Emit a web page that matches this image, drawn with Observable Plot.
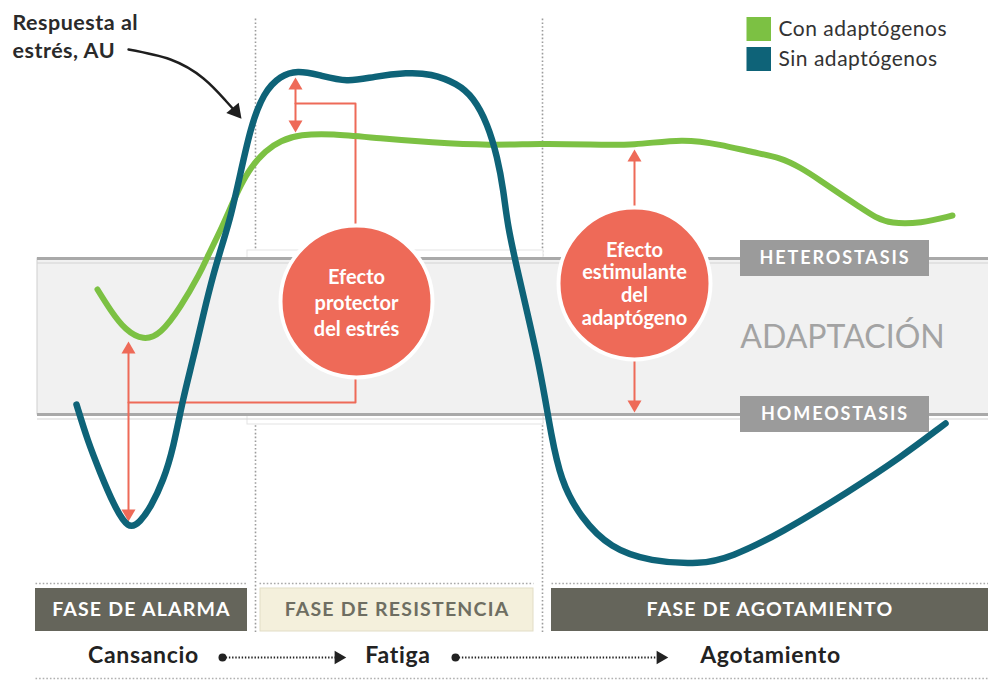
<!DOCTYPE html>
<html><head><meta charset="utf-8">
<script src="https://cdn.jsdelivr.net/npm/d3@7"></script>
<script src="https://cdn.jsdelivr.net/npm/@observablehq/plot@0.6"></script>
<style>
html,body{margin:0;padding:0;background:#fff;}
#chart{width:988px;height:680px;}
</style></head><body><div id="chart"></div>
<script>
// ---- Data (time units, stress response AU) ----
const conT  = [9.7, 11.0, 12.5, 14.3, 16.0, 18.0, 20.0, 20.7, 22.0, 23.0, 24.0, 25.0, 26.5, 28.0, 30.0, 33.0, 38.0, 43.0, 49.0, 54.0, 59.0, 63.3, 68.3, 72.0, 75.3, 78.0, 80.0, 82.0, 84.0, 86.0, 87.5, 89.0, 92.0, 95.2];
const conAU = [39.1, 37.0, 35.0, 34.0, 34.6, 37.3, 40.8, 42.4, 45.0, 47.3, 49.5, 51.3, 53.0, 54.0, 54.6, 54.7, 54.2, 53.8, 53.5, 53.7, 53.6, 53.5, 54.2, 53.6, 52.8, 52.3, 51.3, 50.0, 48.6, 47.3, 46.3, 45.7, 45.7, 46.5];
const sinT  = [7.6, 8.7, 10.0, 11.3, 12.8, 14.0, 15.0, 16.3, 17.3, 18.2, 19.3, 20.3, 21.3, 22.3, 23.0, 24.0, 25.0, 26.3, 28.0, 29.7, 31.7, 34.7, 37.3, 40.7, 43.0, 45.7, 47.3, 48.7, 49.7, 50.3, 50.7, 51.7, 52.7, 53.7, 54.5, 55.0, 56.0, 58.0, 61.0, 65.0, 70.0, 73.0, 78.0, 85.0, 90.0, 94.5];
const sinAU = [27.6, 24.0, 20.7, 17.6, 15.0, 15.9, 17.3, 20.0, 23.3, 28.0, 32.3, 36.7, 40.7, 44.0, 46.3, 50.7, 55.3, 58.8, 60.5, 61.0, 60.6, 59.8, 60.4, 60.8, 60.7, 59.7, 58.3, 55.7, 52.3, 49.0, 45.5, 41.0, 36.7, 32.3, 28.0, 25.0, 20.0, 16.3, 13.2, 11.9, 11.6, 12.3, 14.7, 19.0, 22.3, 25.7];

const seriesNames  = ["Con adaptógenos", "Sin adaptógenos"];
const seriesColors = ["#7cc143", "#0e6378"];

const phaseLabels = ["FASE DE ALARMA", "FASE DE RESISTENCIA", "FASE DE AGOTAMIENTO"];
const phaseStart  = [3.5, 26.0, 55.1];
const phaseEnd    = [24.7, 53.3, 98.8];
const phaseFill   = ["#65655b", "#f4f0dc", "#65655b"];
const phaseInk    = ["#ffffff", "#6e6e62", "#ffffff"];
const phaseDividers = [25.5, 54.2];

const stateLabels = ["Cansancio", "Fatiga", "Agotamiento"];
const stateT      = [14.3, 39.75, 77.0];

const levelLabels = ["HETEROSTASIS", "HOMEOSTASIS"];
const levelAU     = [42.2, 26.6];
const zoneLabel   = "ADAPTACIÓN";

const effectLabels = ["Efecto\nprotector\ndel estrés", "Efecto\nestimulante\ndel\nadaptógeno"];
const effectT  = [35.6, 63.4];
const effectAU = [37.9, 39.7];

const axisLabel = ["Respuesta al", "estrés, AU"];

// ---- derived tables ----
const con = conT.map((t, i) => ({t, au: conAU[i]}));
const sin = sinT.map((t, i) => ({t, au: sinAU[i]}));
const phases = phaseLabels.map((label, i) => ({label, x1: phaseStart[i], x2: phaseEnd[i], fill: phaseFill[i], ink: phaseInk[i]}));
const states = stateLabels.map((label, i) => ({label, t: stateT[i]}));
const levels = levelLabels.map((label, i) => ({label, au: levelAU[i]}));
const effects = effectLabels.map((label, i) => ({label, t: effectT[i], au: effectAU[i]}));
const legend = seriesNames.map((name, i) => ({name, color: seriesColors[i], au: [65.1, 62.1][i]}));

const RED = "#ee6a58";
const redLines = [
  [{t:12.8,au:33.1},{t:12.8,au:16.7}],
  [{t:12.8,au:27.8},{t:35.5,au:27.8},{t:35.5,au:30.4}],
  [{t:29.5,au:59.5},{t:29.5,au:55.6}],
  [{t:29.5,au:57.7},{t:35.5,au:57.7},{t:35.5,au:45.5}],
  [{t:63.4,au:47.3},{t:63.4,au:52.3}],
  [{t:63.4,au:32.1},{t:63.4,au:27.6}]
].flatMap((pts, k) => pts.map(p => ({...p, k})));
const redHeads = [
  {t:12.8, au:33.1, rot:0}, {t:12.8, au:16.7, rot:180},
  {t:29.5, au:59.5, rot:0}, {t:29.5, au:55.6, rot:180},
  {t:63.4, au:52.3, rot:0}, {t:63.4, au:27.6, rot:180}
];
const pointer = [{t:12.8,au:63.1},{t:17.0,au:62.1},{t:20.3,au:60.2},{t:22.5,au:58.0},{t:23.5,au:56.9}];

const flowDots = [{t:22.2, au:2.3}, {t:45.5, au:2.3}];
const flowEnds = [{t1:22.2, t2:33.8}, {t1:45.5, t2:66.0}];

const chart = Plot.plot({
  width: 988, height: 680,
  margin: 0,
  x: {domain: [0, 98.8], axis: null},
  y: {domain: [0, 68], axis: null},
  style: {fontFamily: "Lato, sans-serif", background: "#fff", overflow: "visible"},
  marks: [
    // phase dividers (dotted)
    Plot.ruleX(phaseDividers, {y1: 4.8, y2: 66.2, stroke: "#9c9c9c", strokeWidth: 1.6, strokeDasharray: "1.6 2.2"}),
    // white card behind resistance phase
    Plot.rect([{}], {x1: 24.7, x2: 54.3, y1: 25.6, y2: 43.0, fill: "#fff", stroke: "#e3e3e3", strokeWidth: 1}),
    // adaptation band
    Plot.rect([{}], {x1: 3.7, x2: 99.5, y1: 26.6, y2: 42.2, fill: "#f1f1f1", stroke: "#cfcfcf", strokeWidth: 1}),
    Plot.ruleY(levels, {y: "au", x1: 3.7, x2: 98.8, stroke: "#a9a9a9", strokeWidth: 3}),
    Plot.ruleY([41.75, 26.15], {x1: 3.7, x2: 98.8, stroke: "#d4d4d4", strokeWidth: 1.2}),
    Plot.text([zoneLabel], {x: 84.2, y: 34.3, text: d => d, fill: "#a3a3a3", fontSize: 32, lineAnchor: "middle"}),
    Plot.rect(levels, {x1: 74.0, x2: 92.9, y1: d => d.au - 1.8, y2: d => d.au + 1.8, fill: "#9b9b9b"}),
    Plot.text(levels, {x: 83.45, y: "au", text: "label", fill: "#fff", fontSize: 18, fontWeight: 700, lineAnchor: "middle"}),
    // red annotations
    Plot.line(redLines, {x: "t", y: "au", z: "k", stroke: RED, strokeWidth: 2, curve: "linear"}),
    Plot.dot(redHeads, {x: "t", y: "au", rotate: "rot", symbol: "triangle", r: 5.2, fill: RED, stroke: "none"}),
    Plot.dot(effects, {x: "t", y: "au", r: 76, fill: RED, stroke: "#fff", strokeWidth: 4}),
    Plot.text([effects[0]], {x: "t", y: "au", text: "label", fill: "#fff", fontSize: 20, fontWeight: 700, lineHeight: 1.3, lineAnchor: "middle"}),
    Plot.text([effects[1]], {x: "t", y: "au", text: "label", fill: "#fff", fontSize: 20, fontWeight: 700, lineHeight: 1.13, lineAnchor: "middle"}),
    // series
    Plot.line(con, {x: "t", y: "au", stroke: seriesColors[0], strokeWidth: 6, curve: "basis", strokeLinecap: "round"}),
    Plot.line(sin, {x: "t", y: "au", stroke: seriesColors[1], strokeWidth: 6.5, curve: "basis", strokeLinecap: "round"}),
    // phase bars
    Plot.link([{x1: 3.5, x2: 24.7}, {x1: 25.9, x2: 53.3}, {x1: 55.1, x2: 98.8}], {x1: "x1", x2: "x2", y1: 9.7, y2: 9.7, stroke: "#a8a8a8", strokeWidth: 1.5, strokeDasharray: "1.6 2"}),
    Plot.rect(phases, {x1: "x1", x2: "x2", y1: 4.9, y2: 9.2, fill: "fill", stroke: d => d.fill === "#f4f0dc" ? "#e2ddc6" : "none"}),
    Plot.text(phases, {x: d => (d.x1 + d.x2) / 2, y: 7.1, text: "label", fill: "ink", fontSize: 19.5, fontWeight: 700, lineAnchor: "middle"}),
    Plot.link([{}], {x1: 3.5, x2: 98.8, y1: 0.2, y2: 0.2, stroke: "#b0b0b0", strokeWidth: 1.5, strokeDasharray: "1.6 2"}),
    // states flow
    Plot.text(states, {x: "t", y: 2.5, text: "label", fill: "#222", fontSize: 23, fontWeight: 700, lineAnchor: "middle"}),
    Plot.link(flowEnds, {x1: "t1", x2: "t2", y1: 2.3, y2: 2.3, stroke: "#222", strokeWidth: 1.8, strokeDasharray: "1.4 1.8"}),
    Plot.dot(flowDots, {x: "t", y: "au", r: 4, fill: "#222"}),
    Plot.dot(flowEnds, {x: d => d.t2, y: 2.3, rotate: 90, symbol: "triangle", r: 5, fill: "#222"}),
    // legend
    Plot.rect(legend, {x1: 74.65, x2: 77.1, y1: d => d.au - 1.2, y2: d => d.au + 1.2, fill: "color"}),
    Plot.text(legend, {x: 77.8, y: "au", text: "name", fill: "#333", fontSize: 21, textAnchor: "start", lineAnchor: "middle"}),
    // y label with pointer
    Plot.text(axisLabel, {x: 1.2, y: (d, i) => [65.75, 62.95][i], text: d => d, fill: "#2a2a2a", fontSize: 21.5, fontWeight: 700, textAnchor: "start", lineAnchor: "middle"}),
    Plot.line(pointer, {x: "t", y: "au", stroke: "#1e1e1e", strokeWidth: 2.4, curve: "natural"}),
    Plot.dot([pointer[pointer.length - 1]], {x: "t", y: "au", rotate: 140, symbol: "triangle", r: 6, fill: "#1e1e1e"})
  ]
});

document.getElementById("chart").appendChild(chart);
// letter spacing tweaks
d3.select(chart).selectAll("text").each(function() {
  const s = this.textContent;
  if (levelLabels.includes(s)) this.style.letterSpacing = "1.9px";
  if (phaseLabels.includes(s)) this.style.letterSpacing = "1.2px";
  if (stateLabels.includes(s)) this.style.letterSpacing = "0.7px";
  if (seriesNames.includes(s)) this.style.letterSpacing = "0.5px";
  if (axisLabel.includes(s)) this.style.letterSpacing = "0.5px";
});
</script></body></html>
